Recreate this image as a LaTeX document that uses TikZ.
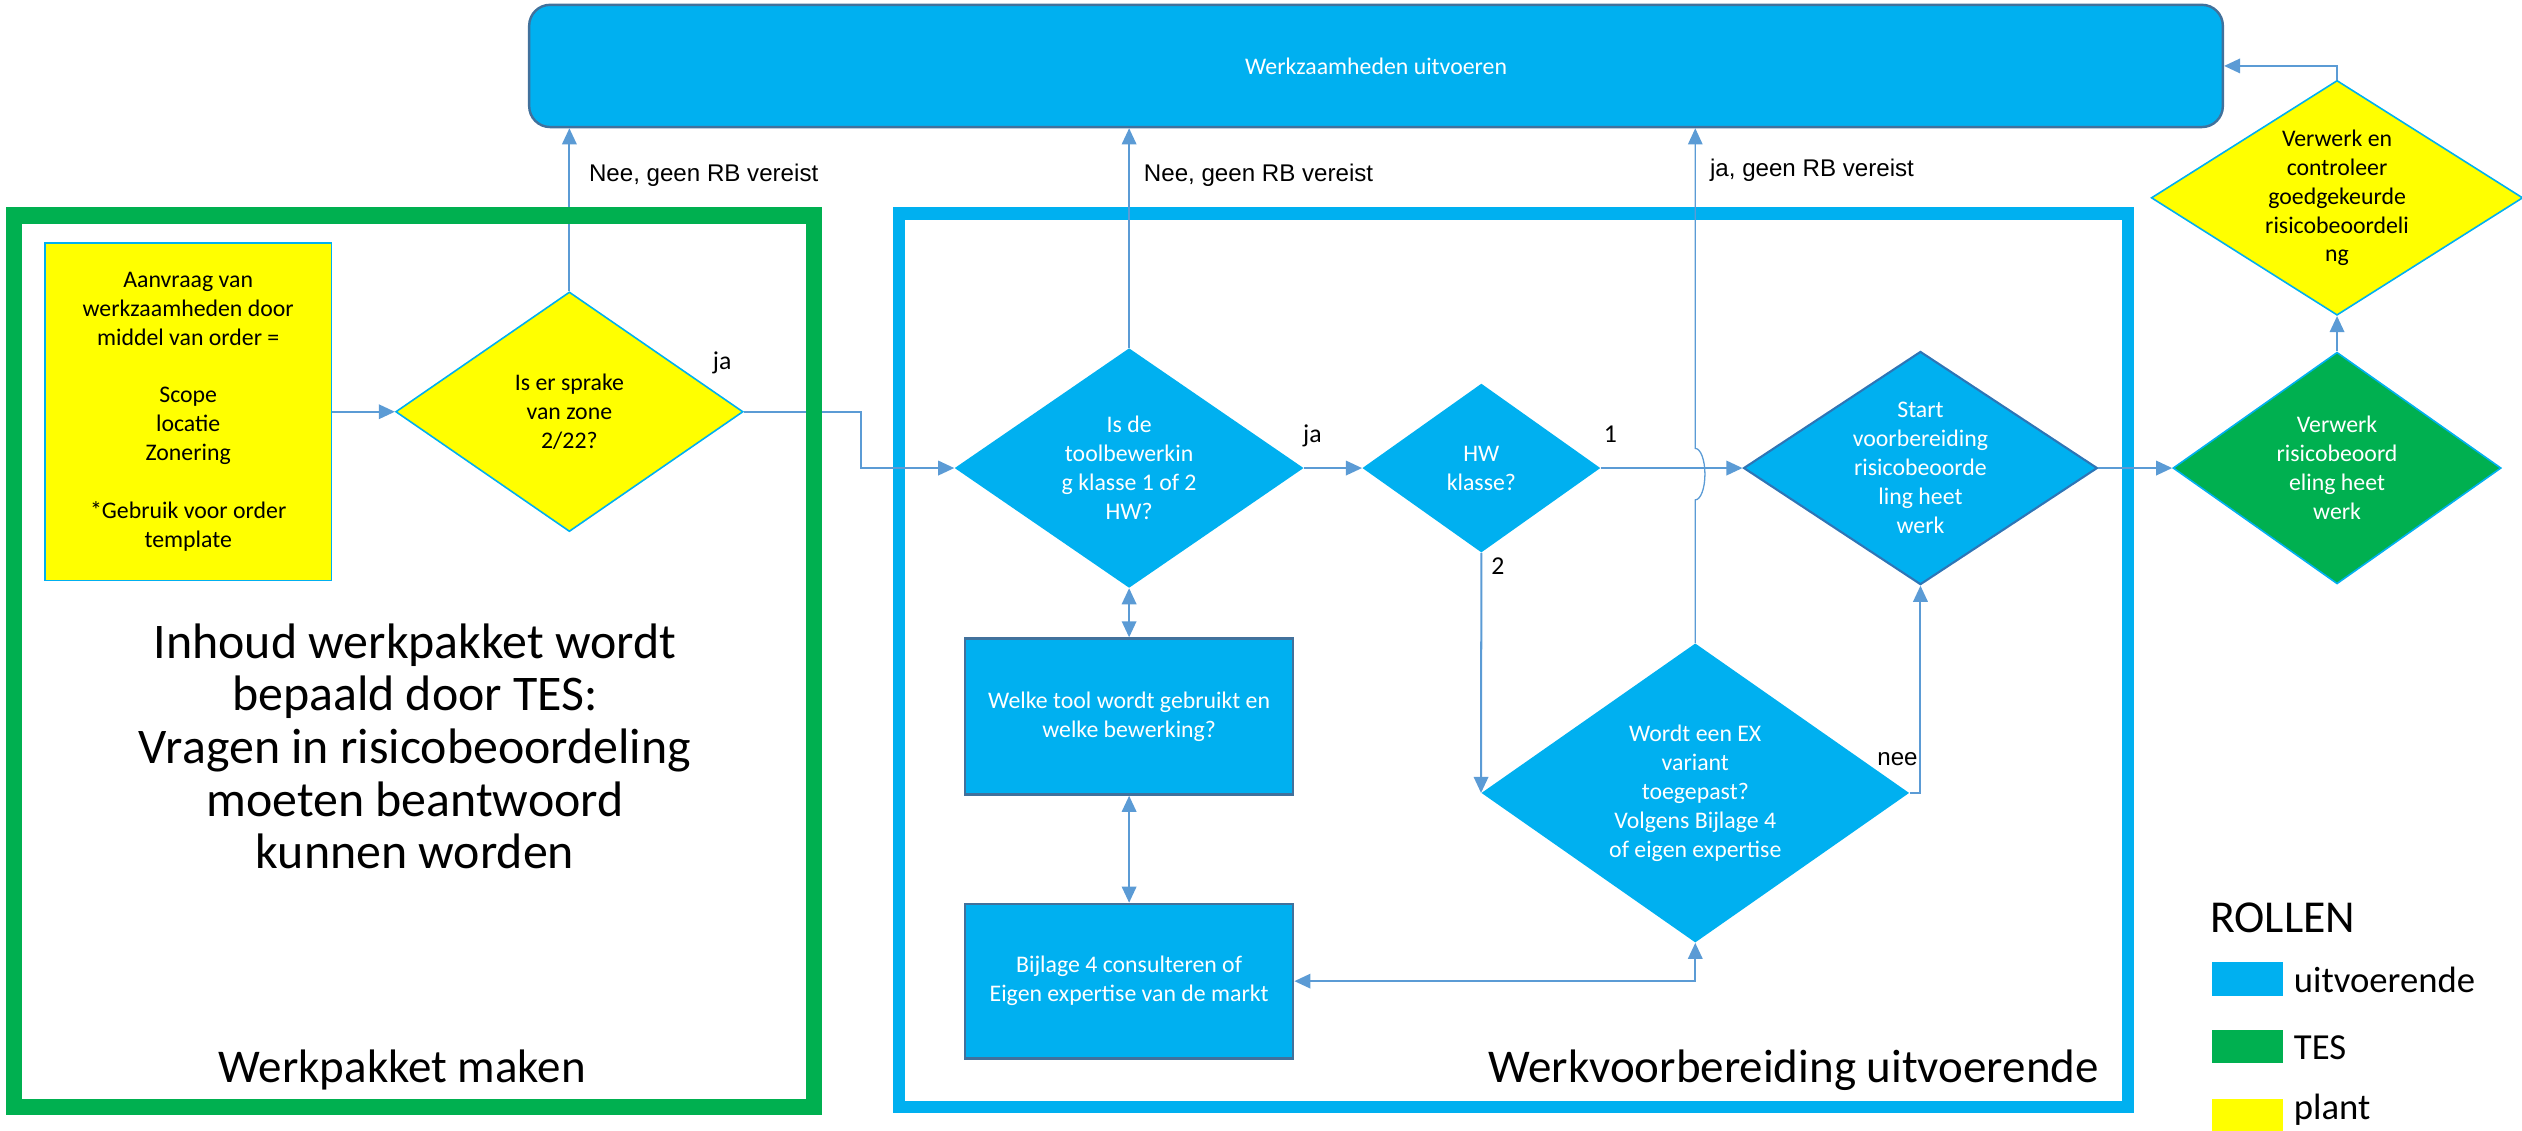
\documentclass[tikz,border=0pt]{standalone}
\usepackage{fontspec}
\setmainfont{Carlito}
\newfontfamily\arialfont{Liberation Sans}
\usepackage{tikz}
\usetikzlibrary{arrows.meta, shapes.geometric}
\definecolor{rolblauw}{HTML}{00B0F0}
\definecolor{rolgroen}{HTML}{00B050}
\definecolor{plantgeel}{HTML}{FFFF00}
\definecolor{pijlblauw}{HTML}{5B9BD5}
\definecolor{randblauw}{HTML}{41719C}
\definecolor{startrand}{HTML}{2E75B6}
\newcommand{\kleintekst}{\fontsize{14.8}{18}\selectfont}
\newcommand{\pijltekst}{\arialfont\fontsize{15}{18}\selectfont}
\newcommand{\groottekst}{\fontsize{31}{32.7}\selectfont}
\newcommand{\koptekst}{\fontsize{29.2}{35}\selectfont}
\tikzset{
    pijl/.style={draw=pijlblauw, line width=1.25pt, -{Triangle[length=10pt, width=9pt]}}, % 连接箭头
    heenweer/.style={pijl, {Triangle[length=10pt, width=9pt]}-{Triangle[length=10pt, width=9pt]}}, % 双向箭头
    keuze/.style={diamond, inner sep=0pt, align=center, font=\kleintekst}, % 判断框
    stap/.style={rectangle, draw=randblauw, line width=1.5pt, fill=rolblauw, text=white, inner sep=0pt, align=center, font=\kleintekst}, % 步骤框
    uitv/.style={fill=rolblauw, text=white}, % 执行方颜色
    plant/.style={fill=plantgeel, draw=rolblauw, line width=1pt}, % 工厂颜色
    bijschrift/.style={font=\pijltekst, inner sep=0pt, anchor=base west}, % 箭头旁文字
    tak/.style={font=\fontsize{16}{18}\selectfont, inner sep=0pt, anchor=base west} % 分支编号
}

\begin{document}
\begin{tikzpicture}[x=1pt, y=-1pt]
    \useasboundingbox (0,0) rectangle (1568,703);

    \draw[rolblauw, line width=7.5pt] (559,132.75) rectangle (1323,688);

    \node[stap, rounded corners=13pt, minimum width=1053pt, minimum height=76pt] (werk) at (855.5,41) {Werkzaamheden uitvoeren};

    \node[plant, font=\kleintekst, align=center, inner sep=0pt, minimum width=178pt, minimum height=210pt] (aanvraag) at (117,256) {Aanvraag van\\werkzaamheden door\\middel van order =\\~\\Scope\\locatie\\Zonering\\~\\*Gebruik voor order\\template};
    \node[keuze, plant, aspect=1.45, minimum width=216pt, minimum height=149pt] (zone) at (354,256) {Is er sprake\\van zone\\2/22?};
    \node[keuze, uitv, aspect=1.45, minimum width=217pt, minimum height=149pt] (toolklasse) at (702,291) {Is de\\toolbewerkin\\g klasse 1 of 2\\HW?};
    \node[keuze, uitv, aspect=1.41, minimum width=148pt, minimum height=105pt] (hwklasse) at (921,291) {HW\\klasse?};
    \node[keuze, uitv, draw=startrand, line width=1.3pt, aspect=1.52, minimum width=220pt, minimum height=145pt] (startrb) at (1194,291) {Start\\voorbereiding\\risicobeoorde\\ling heet\\werk};
    \node[keuze, uitv, aspect=1.43, minimum width=266pt, minimum height=186pt] (exvariant) at (1054,493) {Wordt een EX\\variant\\toegepast?\\Volgens Bijlage 4\\of eigen expertise};
    \node[keuze, fill=rolgroen, draw=rolblauw, line width=1pt, text=white, aspect=1.42, minimum width=204pt, minimum height=144pt] (verwerk) at (1453,291) {Verwerk\\risicobeoord\\eling heet\\werk};
    \node[keuze, plant, aspect=1.58, minimum width=231pt, minimum height=146pt] (controle) at (1453,123) {Verwerk en\\controleer\\goedgekeurde\\risicobeoordeli\\ng};
    \node[stap, minimum width=204pt, minimum height=97pt] (welketool) at (702,445.5) {Welke tool wordt gebruikt en\\welke bewerking?};
    \node[stap, minimum width=204pt, minimum height=96pt] (bijlage) at (702,610) {Bijlage 4 consulteren of\\Eigen expertise van de markt};

    \draw[pijl] (aanvraag.east) -- (zone.west);
    \draw[pijl] (zone.north) -- (zone.north |- werk.south);
    \draw[pijl] (zone.east) -- ++(73,0) |- (toolklasse.west);
    \draw[pijl] (toolklasse.north) -- (toolklasse.north |- werk.south);
    \draw[pijl] (toolklasse.east) -- (hwklasse.west);
    \draw[heenweer] (toolklasse.south) -- (welketool.north);
    \draw[heenweer] (welketool.south) -- (bijlage.north);
    \draw[pijl] (hwklasse.east) -- (startrb.west);
    \draw[pijl] (hwklasse.south) -- (exvariant.west);
    \draw[pijl, line width=0.8pt] (exvariant.north) -- ++(0,-89) arc[start angle=-90, end angle=90, x radius=6pt, y radius=16pt] -- (exvariant.north |- werk.south);
    \draw[pijl] (exvariant.east) -| (startrb.south);
    \draw[heenweer] (bijlage.east) -| (exvariant.south);
    \draw[pijl] (startrb.east) -- (verwerk.west);
    \draw[pijl] (verwerk.north) -- (controle.south);
    \draw[pijl] (controle.north) |- (werk.east);

    \draw[rolgroen, line width=10pt] (8.5,134) rectangle (506,688);

    \node[bijschrift] (neezone) at (366,113) {Nee, geen RB vereist};
    \node[bijschrift] (neetool) at (711,113) {Nee, geen RB vereist};
    \node[bijschrift] (jaex) at (1063,110) {ja, geen RB vereist};
    \node[bijschrift] (neeex) at (1167,476) {nee};
    \node[tak] (jazone) at (443,230) {ja};
    \node[tak] (jatool) at (810,275) {ja};
    \node[tak] (klas1) at (997,275) {1};
    \node[tak] (klas2) at (927,357) {2};

    \node[font=\groottekst, align=center] (inhoud) at (258,464) {Inhoud werkpakket wordt\\bepaald door TES:\\Vragen in risicobeoordeling\\moeten beantwoord\\kunnen worden};
    \node[font=\koptekst, anchor=base] (wpmaken) at (250,673) {Werkpakket maken};
    \node[font=\koptekst, anchor=base] (wvuitv) at (1115,673) {Werkvoorbereiding uitvoerende};

    \node[font=\fontsize{28.4}{34}\selectfont, anchor=base west, inner sep=0pt] (rollen) at (1374,580) {ROLLEN};
    \foreach \kleur/\rol/\y/\b [count=\i] in {rolblauw/uitvoerende/598/617, rolgroen/TES/640/659, plantgeel/plant/683/696} {
        \node[fill=\kleur, minimum width=44pt, minimum height=21pt, inner sep=0pt, anchor=north west] (kleur\i) at (1375,\y) {};
        \node[font=\fontsize{22.8}{27}\selectfont, anchor=base west, inner sep=0pt] (rol\i) at (1426,\b) {\rol};
    }
\end{tikzpicture}
\end{document}
